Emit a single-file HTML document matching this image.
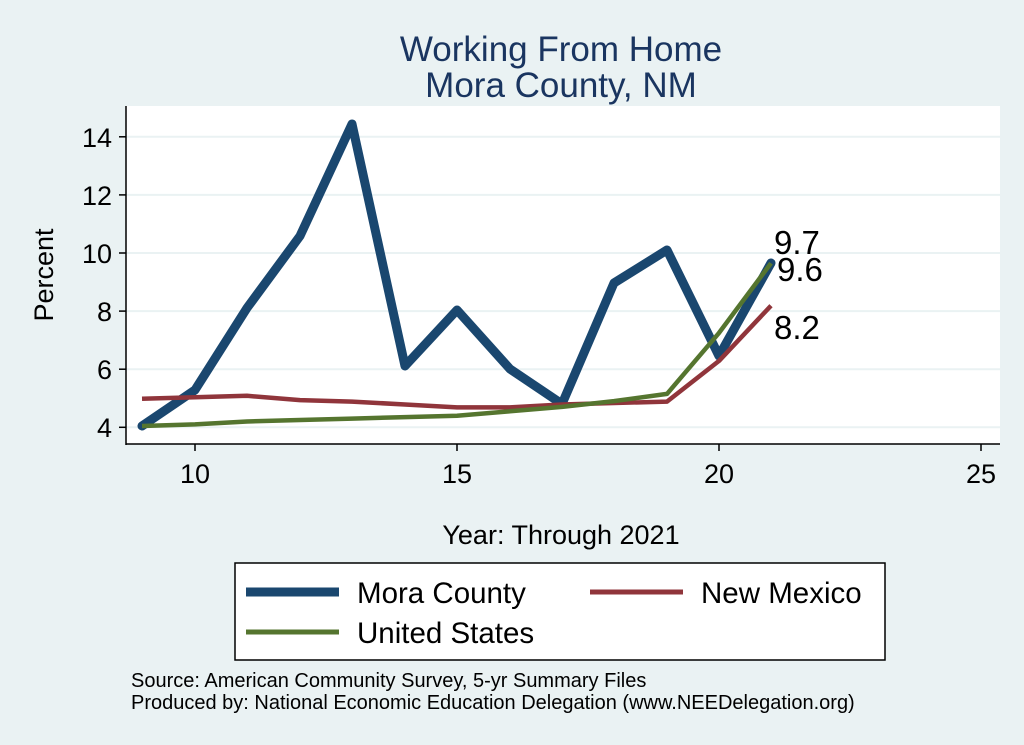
<!DOCTYPE html>
<html><head><style>
body{margin:0;background:#eaf2f3;}
svg{display:block;font-family:"Liberation Sans",sans-serif;}
</style></head><body>
<svg width="1024" height="745" viewBox="0 0 1024 745">
<rect width="1024" height="745" fill="#eaf2f3"/>
<rect x="126" y="106" width="874" height="338" fill="#fff"/>
<g stroke="#eaf2f3" stroke-width="2">
<line x1="126" x2="1000" y1="427.3" y2="427.3"/>
<line x1="126" x2="1000" y1="369.2" y2="369.2"/>
<line x1="126" x2="1000" y1="311.1" y2="311.1"/>
<line x1="126" x2="1000" y1="253" y2="253"/>
<line x1="126" x2="1000" y1="194.9" y2="194.9"/>
<line x1="126" x2="1000" y1="136.8" y2="136.8"/>
</g>
<g stroke="#000" stroke-width="1.5">
<line x1="126" y1="106" x2="126" y2="445"/>
<line x1="126" y1="444" x2="1000" y2="444"/>
<line x1="119" x2="126" y1="427.3" y2="427.3"/>
<line x1="119" x2="126" y1="369.2" y2="369.2"/>
<line x1="119" x2="126" y1="311.1" y2="311.1"/>
<line x1="119" x2="126" y1="253" y2="253"/>
<line x1="119" x2="126" y1="194.9" y2="194.9"/>
<line x1="119" x2="126" y1="136.8" y2="136.8"/>
<line y1="444" y2="451" x1="195" x2="195"/>
<line y1="444" y2="451" x1="457" x2="457"/>
<line y1="444" y2="451" x1="719" x2="719"/>
<line y1="444" y2="451" x1="981" x2="981"/>
</g>
<g font-size="27" text-anchor="end">
<text x="112" y="437">4</text><text x="112" y="379">6</text><text x="112" y="321">8</text>
<text x="112" y="263">10</text><text x="112" y="205">12</text><text x="112" y="147">14</text>
</g>
<g font-size="27" text-anchor="middle">
<text x="195" y="483">10</text><text x="457" y="483">15</text><text x="719" y="483">20</text><text x="981" y="483">25</text>
<text x="561" y="544">Year: Through 2021</text>
</g>
<text transform="translate(53,275) rotate(-90)" font-size="27" text-anchor="middle">Percent</text>
<g font-size="35" fill="#1a3560" text-anchor="middle">
<text x="561" y="61">Working From Home</text><text x="561" y="97">Mora County, NM</text>
</g>
<polyline fill="none" stroke="#1a476f" stroke-width="9" stroke-linejoin="round" stroke-linecap="round"
points="142,426 195,390 247,308 300,236 352,124 405,366 457,310 510,369 562,404 614,283 667,250 719,356 771,263"/>
<polyline fill="none" stroke="#90353b" stroke-width="4.5" stroke-linejoin="round"
points="142,398.7 195,397.2 247,395.8 300,400.1 352,401.6 405,404.5 457,407.4 510,407.4 562,404.5 614,403 667,401.6 719,360.9 771,305.7"/>
<polyline fill="none" stroke="#55752f" stroke-width="4.5" stroke-linejoin="round"
points="142,426 195,424.4 247,421.5 300,420 352,418.6 405,417.1 457,415.7 510,411.3 562,406.9 614,401.1 667,393.9 719,332.9 771,263.2"/>
<g font-size="33">
<text x="774" y="254">9.7</text><text x="777" y="281">9.6</text><text x="774" y="339">8.2</text>
</g>
<rect x="235" y="563" width="650" height="97" fill="#fff" stroke="#000" stroke-width="1.5"/>
<line x1="246" x2="339" y1="592" y2="592" stroke="#1a476f" stroke-width="9"/>
<line x1="590" x2="683" y1="592" y2="592" stroke="#90353b" stroke-width="5"/>
<line x1="246" x2="339" y1="632" y2="632" stroke="#55752f" stroke-width="5"/>
<g font-size="29.5">
<text x="357" y="603">Mora County</text><text x="701" y="603">New Mexico</text><text x="357" y="643">United States</text>
</g>
<g font-size="20">
<text x="131" y="687">Source: American Community Survey, 5-yr Summary Files</text>
<text x="131" y="709">Produced by: National Economic Education Delegation (www.NEEDelegation.org)</text>
</g>
</svg>
</body></html>
